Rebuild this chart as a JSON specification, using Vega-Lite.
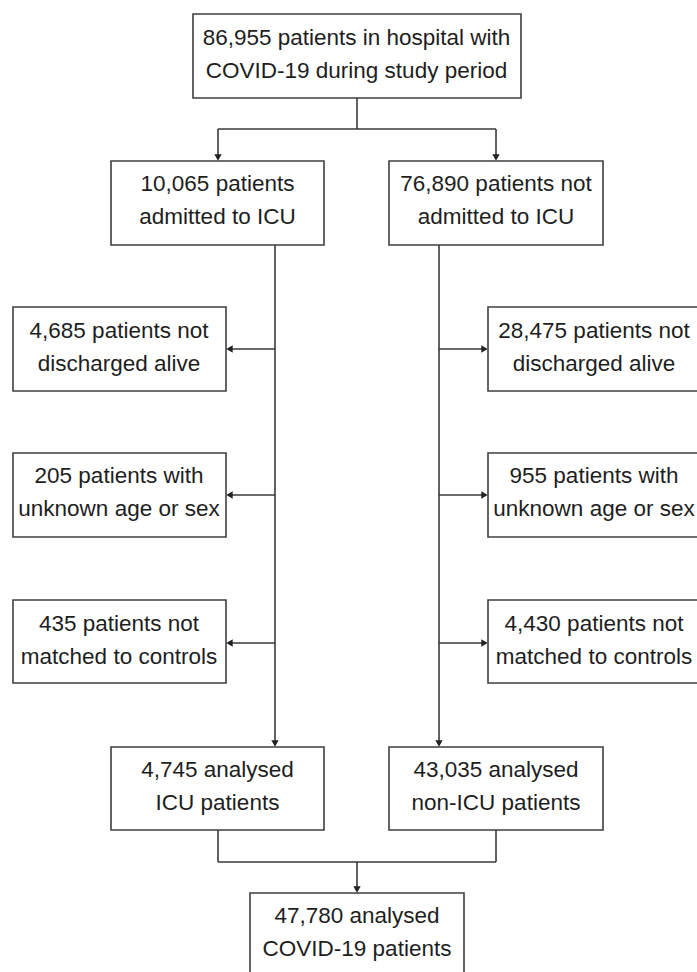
{
  "$schema": "https://vega.github.io/schema/vega-lite/v6.json",
  "width": 697,
  "height": 972,
  "padding": 0,
  "autosize": {"type": "fit", "contains": "padding"},
  "background": "white",
  "config": {"view": {"stroke": null}},
  "datasets": {
    "boxes": [
      {"id": "total", "x1": 193, "x2": 521, "y1": 14, "y2": 98, "tx": 356.5, "ty": 38, "label": "86,955 patients in hospital with\nCOVID-19 during study period"},
      {"id": "icu", "x1": 111, "x2": 324, "y1": 161, "y2": 245, "tx": 217.5, "ty": 184, "label": "10,065 patients\nadmitted to ICU"},
      {"id": "nonicu", "x1": 389, "x2": 603, "y1": 161, "y2": 245, "tx": 496, "ty": 184, "label": "76,890 patients not\nadmitted to ICU"},
      {"id": "icu_dead", "x1": 13, "x2": 226, "y1": 307, "y2": 391, "tx": 119, "ty": 331, "label": "4,685 patients not\ndischarged alive"},
      {"id": "non_dead", "x1": 488, "x2": 702, "y1": 307, "y2": 391, "tx": 594, "ty": 331, "label": "28,475 patients not\ndischarged alive"},
      {"id": "icu_unk", "x1": 13, "x2": 226, "y1": 453, "y2": 537, "tx": 119, "ty": 476, "label": "205 patients with\nunknown age or sex"},
      {"id": "non_unk", "x1": 488, "x2": 702, "y1": 453, "y2": 537, "tx": 594, "ty": 476, "label": "955 patients with\nunknown age or sex"},
      {"id": "icu_nm", "x1": 13, "x2": 226, "y1": 600, "y2": 683, "tx": 119, "ty": 624, "label": "435 patients not\nmatched to controls"},
      {"id": "non_nm", "x1": 488, "x2": 702, "y1": 600, "y2": 683, "tx": 594, "ty": 624, "label": "4,430 patients not\nmatched to controls"},
      {"id": "icu_an", "x1": 111, "x2": 324, "y1": 747, "y2": 830, "tx": 217.5, "ty": 770, "label": "4,745 analysed\nICU patients"},
      {"id": "non_an", "x1": 389, "x2": 603, "y1": 747, "y2": 830, "tx": 496, "ty": 770, "label": "43,035 analysed\nnon-ICU patients"},
      {"id": "all_an", "x1": 250, "x2": 464, "y1": 893, "y2": 980, "tx": 357, "ty": 916, "label": "47,780 analysed\nCOVID-19 patients"}
    ],
    "links": [
      {"x": 357, "x2": 357, "y": 98, "y2": 129},
      {"x": 218, "x2": 496, "y": 129, "y2": 129},
      {"x": 218, "x2": 218, "y": 129, "y2": 156},
      {"x": 496, "x2": 496, "y": 129, "y2": 156},
      {"x": 275, "x2": 275, "y": 245, "y2": 742},
      {"x": 439, "x2": 439, "y": 245, "y2": 742},
      {"x": 275, "x2": 231, "y": 349, "y2": 349},
      {"x": 275, "x2": 231, "y": 495, "y2": 495},
      {"x": 275, "x2": 231, "y": 643, "y2": 643},
      {"x": 439, "x2": 483, "y": 349, "y2": 349},
      {"x": 439, "x2": 483, "y": 495, "y2": 495},
      {"x": 439, "x2": 483, "y": 643, "y2": 643},
      {"x": 218, "x2": 218, "y": 830, "y2": 862},
      {"x": 496, "x2": 496, "y": 830, "y2": 862},
      {"x": 218, "x2": 496, "y": 862, "y2": 862},
      {"x": 357, "x2": 357, "y": 862, "y2": 888}
    ],
    "heads": [
      {"x": 218, "y": 157.5, "shape": "triangle-down"},
      {"x": 496, "y": 157.5, "shape": "triangle-down"},
      {"x": 275, "y": 743.5, "shape": "triangle-down"},
      {"x": 439, "y": 743.5, "shape": "triangle-down"},
      {"x": 357, "y": 889.5, "shape": "triangle-down"},
      {"x": 229.5, "y": 349, "shape": "triangle-left"},
      {"x": 229.5, "y": 495, "shape": "triangle-left"},
      {"x": 229.5, "y": 643, "shape": "triangle-left"},
      {"x": 484.5, "y": 349, "shape": "triangle-right"},
      {"x": 484.5, "y": 495, "shape": "triangle-right"},
      {"x": 484.5, "y": 643, "shape": "triangle-right"}
    ]
  },
  "layer": [
    {
      "data": {"name": "links"},
      "mark": {"type": "rule", "stroke": "#3a3a3a", "strokeWidth": 1.6},
      "encoding": {
        "x": {"field": "x", "type": "quantitative", "scale": {"domain": [0, 697]}, "axis": null},
        "x2": {"field": "x2"},
        "y": {"field": "y", "type": "quantitative", "scale": {"domain": [0, 972], "reverse": true}, "axis": null},
        "y2": {"field": "y2"}
      }
    },
    {
      "data": {"name": "heads"},
      "mark": {"type": "point", "filled": true, "fill": "#222222", "stroke": null, "size": 55, "opacity": 1},
      "encoding": {
        "x": {"field": "x", "type": "quantitative", "scale": {"domain": [0, 697]}, "axis": null},
        "y": {"field": "y", "type": "quantitative", "scale": {"domain": [0, 972], "reverse": true}, "axis": null},
        "shape": {"field": "shape", "type": "nominal", "scale": null, "legend": null}
      }
    },
    {
      "data": {"name": "boxes"},
      "mark": {"type": "rect", "fill": "white", "stroke": "#3f3f3f", "strokeWidth": 1.6, "clip": true},
      "encoding": {
        "x": {"field": "x1", "type": "quantitative", "scale": {"domain": [0, 697]}, "axis": null},
        "x2": {"field": "x2"},
        "y": {"field": "y1", "type": "quantitative", "scale": {"domain": [0, 972], "reverse": true}, "axis": null},
        "y2": {"field": "y2"}
      }
    },
    {
      "data": {"name": "boxes"},
      "mark": {"type": "text", "font": "Liberation Sans", "fontSize": 22.5, "fill": "#1e1e1e", "align": "center", "baseline": "middle", "lineBreak": "\n", "lineHeight": 33},
      "encoding": {
        "x": {"field": "tx", "type": "quantitative", "scale": {"domain": [0, 697]}, "axis": null},
        "y": {"field": "ty", "type": "quantitative", "scale": {"domain": [0, 972], "reverse": true}, "axis": null},
        "text": {"field": "label", "type": "nominal"}
      }
    }
  ]
}
